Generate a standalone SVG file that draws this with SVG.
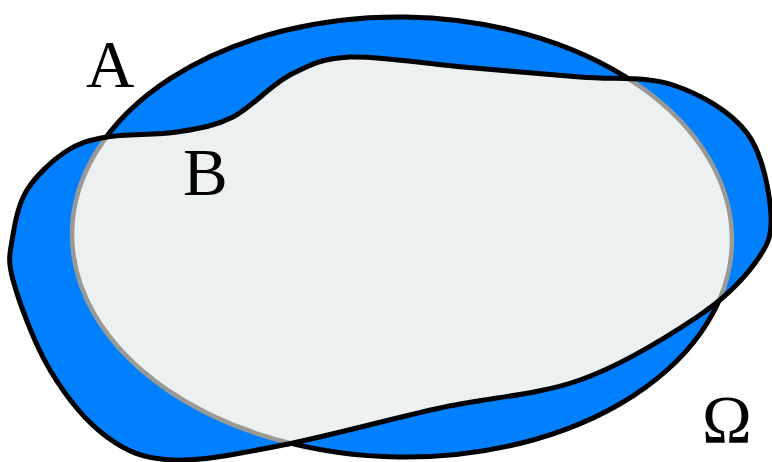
<svg xmlns="http://www.w3.org/2000/svg" width="772" height="462" viewBox="0 0 772 462">
  <style>
    .fillA { fill: #0080ff; stroke: none; }
    .inter { fill: #ecf0f1; stroke: none; }
    .edge { fill: none; stroke: #000000; stroke-width: 5; }
    .inner { fill: none; stroke: #999996; stroke-width: 4.5; }
    .lbl { font-family: "Liberation Serif", "Times New Roman", serif; font-size: 67px; fill: #000000; }
  </style>
  <defs>
    <ellipse id="shapeA" cx="402" cy="237" rx="330" ry="220" transform="rotate(0.8 402 237)"/>
    <path id="shapeB" d="M107,137 C125.7,133.7 156,135.3 177,132 C198,128.7 214.2,126.5 233,117 C251.8,107.5 270.5,85 290,75 C309.5,65 321.2,58.3 350,57 C378.8,55.7 424.7,63.7 463,67 C501.3,70.3 545,74 580,77 C615,80 645.2,75.7 673,85 C700.8,94.3 730.7,111.3 747,133 C763.3,154.7 769.7,193.3 771,215 C772.3,236.7 767.3,246 755,263 C742.7,280 726.2,297.5 697,317 C667.8,336.5 622.8,364.8 580,380 C537.2,395.2 489.5,397.2 440,408 C390.5,418.8 327.5,436.3 283,445 C238.5,453.7 202.3,461.3 173,460 C143.7,458.7 127.5,452 107,437 C86.5,422 65.7,396.2 50,370 C34.3,343.8 19.2,302.5 13,280 C6.8,257.5 10.7,250 13,235 C15.3,220 18.3,203.8 27,190 C35.7,176.2 51.7,160.8 65,152 C78.3,143.2 88.3,140.3 107,137 Z"/>
    <clipPath id="clipB"><use href="#shapeB"/></clipPath>
    <mask id="outsideB" maskUnits="userSpaceOnUse" x="0" y="0" width="772" height="462">
      <rect x="0" y="0" width="772" height="462" fill="#ffffff"/>
      <use href="#shapeB" fill="#000000"/>
    </mask>
  </defs>
  <g id="fills">
    <use href="#shapeA" class="fillA"/>
    <use href="#shapeB" class="fillA"/>
    <use href="#shapeA" class="inter" clip-path="url(#clipB)"/>
  </g>
  <g id="node-A">
    <use href="#shapeA" class="edge" mask="url(#outsideB)"/>
    <use href="#shapeA" class="inner" clip-path="url(#clipB)"/>
    <text class="lbl" x="86" y="87">A</text>
  </g>
  <g id="node-B">
    <use href="#shapeB" class="edge"/>
    <text class="lbl" x="183" y="195">B</text>
  </g>
  <g id="node-Omega">
    <text class="lbl" x="702" y="442" font-size="71">Ω</text>
  </g>
</svg>
